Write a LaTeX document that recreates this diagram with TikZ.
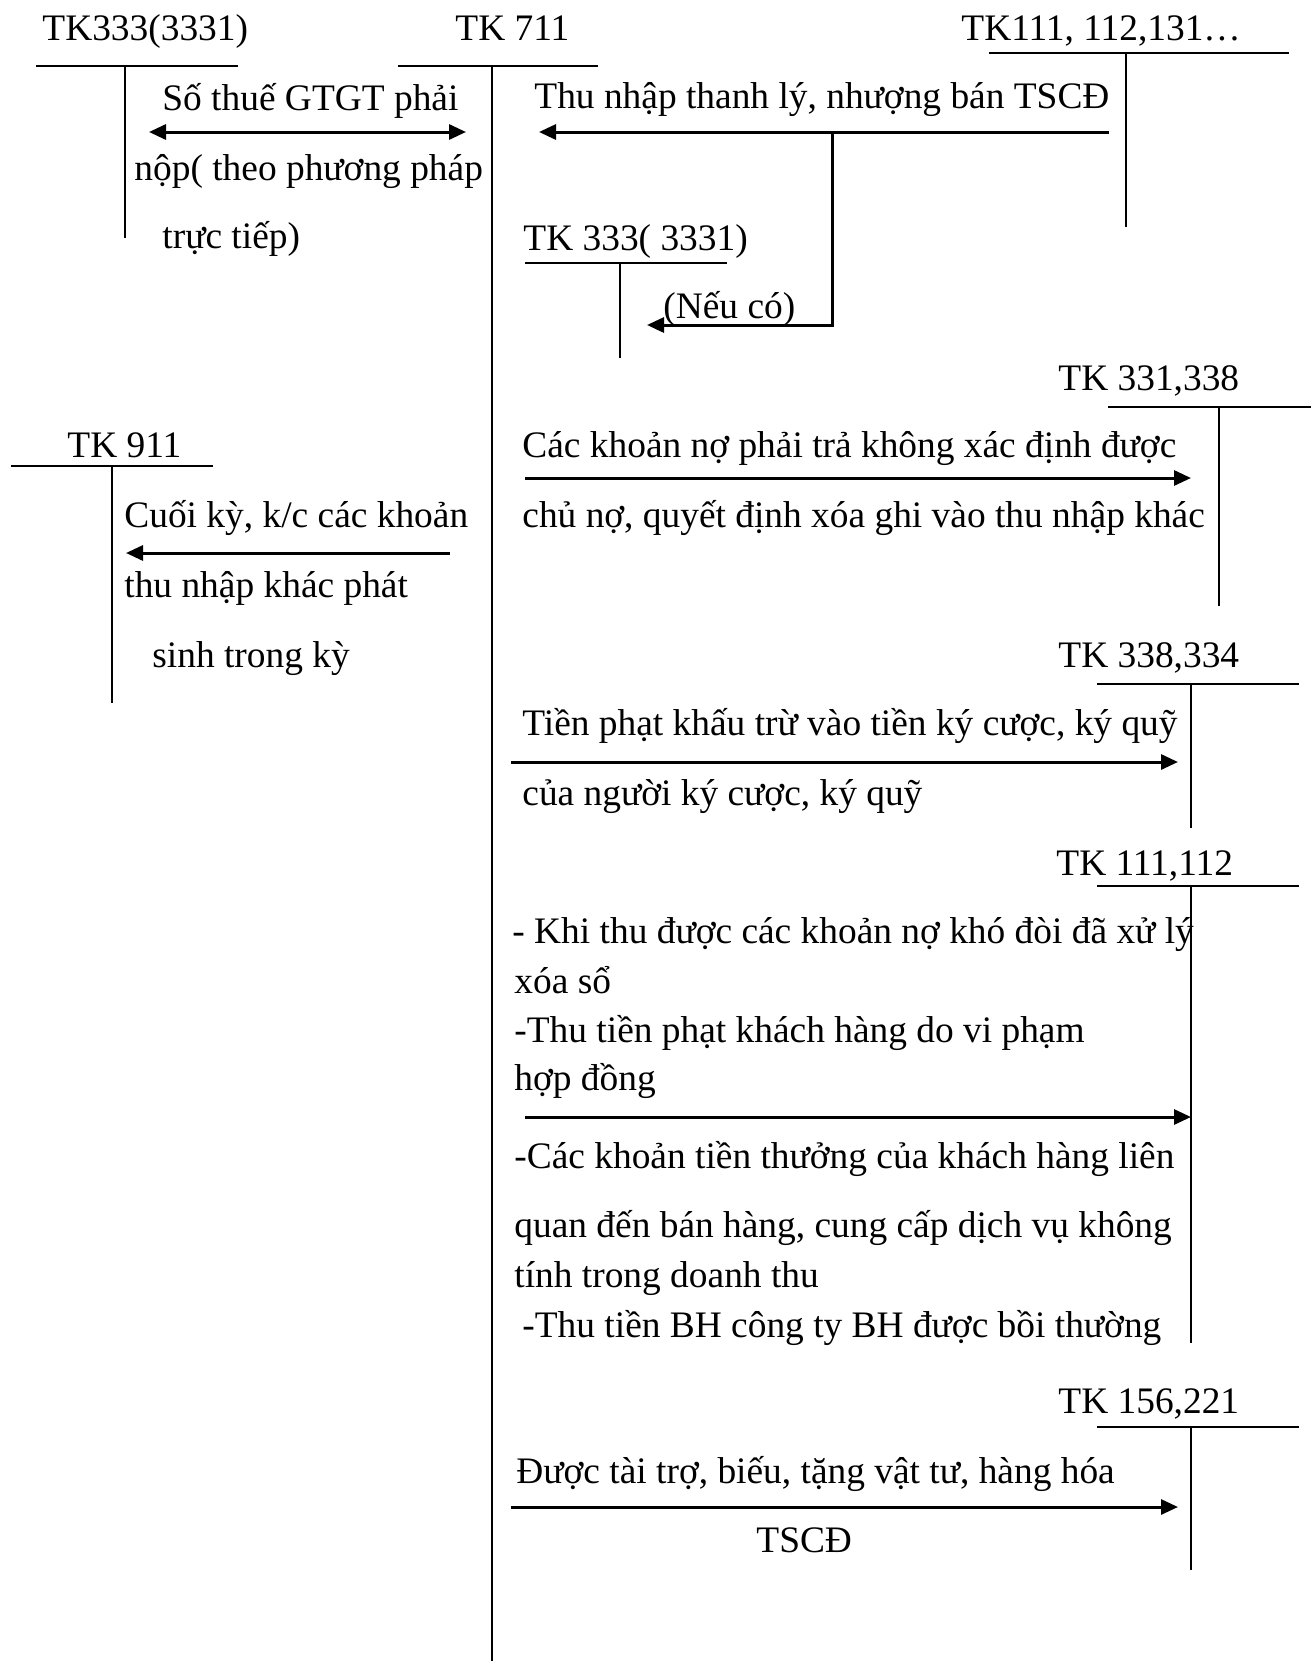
\documentclass[tikz,border=0pt]{standalone}
\usepackage{fontspec}
\setmainfont{Liberation Serif}
\usetikzlibrary{arrows.meta}
\begin{document}
\begin{tikzpicture}[x=0.5pt,y=-0.5pt,
  txt/.style={anchor=base west,inner sep=0pt,font=\fontsize{18.7}{22}\selectfont},
  tline/.style={line width=1pt},
  arr/.style={line width=1.5pt,-{Triangle[length=8.5pt,width=7.5pt]}},
  darr/.style={line width=1.5pt,{Triangle[length=8.5pt,width=7.5pt]}-{Triangle[length=8.5pt,width=7.5pt]}},
]
\useasboundingbox (0,0) rectangle (1311,1661);

% ---------- T accounts ----------
% TK333(3331)
\node[txt] (t1) at (42,40) {TK333(3331)};
\coordinate (t1a) at (36,66); \coordinate (t1b) at (238,66);
\coordinate (t1c) at (125,66); \coordinate (t1d) at (125,238);
\draw[tline] (t1a) -- (t1b); \draw[tline] (t1c) -- (t1d);
% TK 711
\node[txt] (t2) at (455,40) {TK 711};
\coordinate (t2a) at (398,66); \coordinate (t2b) at (598,66);
\coordinate (t2c) at (492,66); \coordinate (t2d) at (492,1661);
\draw[tline] (t2a) -- (t2b); \draw[tline] (t2c) -- (t2d);
% TK111, 112,131...
\node[txt] (t3) at (961,40) {TK111, 112,131…};
\coordinate (t3a) at (989,53); \coordinate (t3b) at (1289,53);
\coordinate (t3c) at (1126,53); \coordinate (t3d) at (1126,227);
\draw[tline] (t3a) -- (t3b); \draw[tline] (t3c) -- (t3d);
% TK 333( 3331)
\node[txt] (t4) at (523,250) {TK 333( 3331)};
\coordinate (t4a) at (525,263); \coordinate (t4b) at (727,263);
\coordinate (t4c) at (620,263); \coordinate (t4d) at (620,358);
\draw[tline] (t4a) -- (t4b); \draw[tline] (t4c) -- (t4d);
% TK 911
\node[txt] (t5) at (67,457) {TK 911};
\coordinate (t5a) at (11,466); \coordinate (t5b) at (213,466);
\coordinate (t5c) at (112,466); \coordinate (t5d) at (112,703);
\draw[tline] (t5a) -- (t5b); \draw[tline] (t5c) -- (t5d);
% TK 331,338
\node[txt] (t6) at (1058,390) {TK 331,338};
\coordinate (t6a) at (1108,407); \coordinate (t6b) at (1311,407);
\coordinate (t6c) at (1219,407); \coordinate (t6d) at (1219,606);
\draw[tline] (t6a) -- (t6b); \draw[tline] (t6c) -- (t6d);
% TK 338,334
\node[txt] (t7) at (1058,667) {TK 338,334};
\coordinate (t7a) at (1097,684); \coordinate (t7b) at (1299,684);
\coordinate (t7c) at (1191,684); \coordinate (t7d) at (1191,828);
\draw[tline] (t7a) -- (t7b); \draw[tline] (t7c) -- (t7d);
% TK 111,112
\node[txt] (t8) at (1056,875) {TK 111,112};
\coordinate (t8a) at (1097,886); \coordinate (t8b) at (1299,886);
\coordinate (t8c) at (1191,886); \coordinate (t8d) at (1191,1343);
\draw[tline] (t8a) -- (t8b); \draw[tline] (t8c) -- (t8d);
% TK 156,221
\node[txt] (t9) at (1058,1413) {TK 156,221};
\coordinate (t9a) at (1097,1427); \coordinate (t9b) at (1299,1427);
\coordinate (t9c) at (1191,1427); \coordinate (t9d) at (1191,1570);
\draw[tline] (t9a) -- (t9b); \draw[tline] (t9c) -- (t9d);

% ---------- Arrows and labels ----------
% a: TK333 <-> TK711
\coordinate (a1) at (149,132); \coordinate (a2) at (466,132);
\draw[darr] (a1) -- (a2);
\node[txt] (la1) at (162,110) {Số thuế GTGT phải};
\node[txt] (la2) at (134,180) {nộp( theo phương pháp};
\node[txt] (la3) at (162,248) {trực tiếp)};

% b: TK111 -> TK711 and TK333
\coordinate (b1) at (1109,132); \coordinate (b2) at (539,132);
\coordinate (b3) at (832,132); \coordinate (b4) at (832,325); \coordinate (b5) at (647,325);
\draw[arr] (b1) -- (b2);
\draw[arr] (b3) -- (b4) -- (b5);
\node[txt] (lb1) at (534,108) {Thu nhập thanh lý, nhượng bán TSCĐ};
\node[txt] (lb2) at (663,318) {(Nếu có)};

% c: TK711 -> TK911
\coordinate (c1) at (450,553); \coordinate (c2) at (126,553);
\draw[arr] (c1) -- (c2);
\node[txt] (lc1) at (124,527) {Cuối kỳ, k/c các khoản};
\node[txt] (lc2) at (124,597) {thu nhập khác phát};
\node[txt] (lc3) at (152,667) {sinh trong kỳ};

% d: -> TK331,338
\coordinate (d1) at (525,478); \coordinate (d2) at (1191,478);
\draw[arr] (d1) -- (d2);
\node[txt] (ld1) at (522,457) {Các khoản nợ phải trả không xác định được};
\node[txt] (ld2) at (522,527) {chủ nợ, quyết định xóa ghi vào thu nhập khác};

% e: -> TK338,334
\coordinate (e1) at (511,762); \coordinate (e2) at (1178,762);
\draw[arr] (e1) -- (e2);
\node[txt] (le1) at (522,735) {Tiền phạt khấu trừ vào tiền ký cược, ký quỹ};
\node[txt] (le2) at (522,805) {của người ký cược, ký quỹ};

% f: -> TK111,112
\coordinate (f1) at (525,1117); \coordinate (f2) at (1191,1117);
\draw[arr] (f1) -- (f2);
\node[txt] (lf1) at (512,943) {- Khi thu được các khoản nợ khó đòi đã xử lý};
\node[txt] (lf2) at (514,993) {xóa sổ};
\node[txt] (lf3) at (514,1042) {-Thu tiền phạt khách hàng do vi phạm};
\node[txt] (lf4) at (514,1090) {hợp đồng};
\node[txt] (lf5) at (514,1168) {-Các khoản tiền thưởng của khách hàng liên};
\node[txt] (lf6) at (514,1237) {quan đến bán hàng, cung cấp dịch vụ không};
\node[txt] (lf7) at (514,1287) {tính trong doanh thu};
\node[txt] (lf8) at (522,1337) {-Thu tiền BH công ty BH được bồi thường};

% g: -> TK156,221
\coordinate (g1) at (511,1507); \coordinate (g2) at (1178,1507);
\draw[arr] (g1) -- (g2);
\node[txt] (lg1) at (516,1483) {Được tài trợ, biếu, tặng vật tư, hàng hóa};
\node[txt] (lg2) at (756,1552) {TSCĐ};
\end{tikzpicture}
\end{document}
